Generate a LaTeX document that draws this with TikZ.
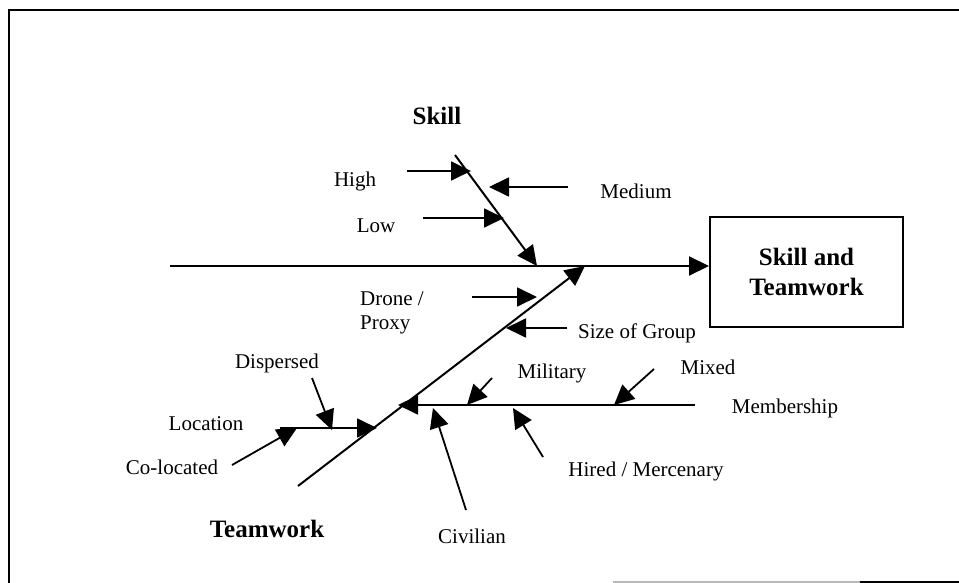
\documentclass[tikz,border=0pt]{standalone}
\usepackage{fontspec}
\setmainfont{Liberation Serif}
\usetikzlibrary{arrows.meta}
\tikzset{
  bone/.style={line width=2pt},
  arr/.style={line width=1.8pt,-{Triangle[length=20pt,width=19pt]}},
  lbl/.style={font=\fontsize{21}{24}\selectfont,inner sep=0pt,anchor=base},
  blbl/.style={font=\fontsize{25}{30}\selectfont\bfseries,inner sep=0pt,anchor=base},
  framel/.style={line width=2pt},
}
\begin{document}
\begin{tikzpicture}[x=1pt,y=-1pt]
\useasboundingbox (0,0) rectangle (959,583);
% frame
\draw[framel] (959,10) -- (9,10) -- (9,583);
\draw[framel,gray!55] (613,582) -- (860,582);
\draw[framel] (860,582) -- (959,582);

% effect box
\node[draw,line width=2pt,minimum width=193pt,minimum height=110pt,inner sep=0pt,
      align=center,font=\fontsize{25}{30}\selectfont\bfseries] (box) at (806.5,272) {Skill and\\Teamwork};

% coordinates
\coordinate (s0) at (170,266);
\coordinate (k0) at (455,155);
\coordinate (k1) at (537,266);
\coordinate (t0) at (298,486);
\coordinate (t1) at (585,266);
\coordinate (hi0) at (407,171);  \coordinate (hi1) at (471,171);
\coordinate (me0) at (568,187);  \coordinate (me1) at (489,187);
\coordinate (lo0) at (423,218);  \coordinate (lo1) at (504,218);
\coordinate (dr0) at (472,297);  \coordinate (dr1) at (537,297);
\coordinate (sz0) at (567,328);  \coordinate (sz1) at (506,328);
\coordinate (lc0) at (280,428);  \coordinate (lc1) at (377,428);
\coordinate (di0) at (312,378);  \coordinate (di1) at (332,430);
\coordinate (co0) at (232,465);  \coordinate (co1) at (297,428);
\coordinate (mb0) at (695,405);  \coordinate (mb1) at (398,405);
\coordinate (mi0) at (492,378);  \coordinate (mi1) at (467,405);
\coordinate (mx0) at (654,369);  \coordinate (mx1) at (614,405);
\coordinate (hr0) at (543,457);  \coordinate (hr1) at (513,408);
\coordinate (cv0) at (466,510);  \coordinate (cv1) at (433,408);

% spine and bones
\draw[arr,line width=2pt] (s0) -- (s0 -| box.west);
\draw[arr,line width=2pt] (k0) -- (k1);
\draw[arr,line width=2pt] (t0) -- (t1);
\draw[arr] (hi0) -- (hi1);
\draw[arr] (me0) -- (me1);
\draw[arr] (lo0) -- (lo1);
\draw[arr] (dr0) -- (dr1);
\draw[arr] (sz0) -- (sz1);
\draw[arr] (lc0) -- (lc1);
\draw[arr] (di0) -- (di1);
\draw[arr] (co0) -- (co1);
\draw[arr] (mb0) -- (mb1);
\draw[arr] (mi0) -- (mi1);
\draw[arr] (mx0) -- (mx1);
\draw[arr] (hr0) -- (hr1);
\draw[arr] (cv0) -- (cv1);

% labels
\node[blbl] (skill) at (437,125) {Skill};
\node[blbl] (team) at (267,537) {Teamwork};
\node[lbl] (high) at (355,186) {High};
\node[lbl] (medium) at (636,199) {Medium};
\node[lbl] (low) at (376,233) {Low};
\node[lbl,anchor=base west,align=left] (drone) at (360,329) {Drone /\\Proxy};
\node[lbl] (size) at (637,338) {Size of Group};
\node[lbl] (disp) at (277,368) {Dispersed};
\node[lbl] (mil) at (552,378) {Military};
\node[lbl] (mixed) at (708,374) {Mixed};
\node[lbl] (memb) at (785,413) {Membership};
\node[lbl] (loc) at (206,430) {Location};
\node[lbl] (colo) at (172,474) {Co-located};
\node[lbl] (hired) at (646,476) {Hired / Mercenary};
\node[lbl] (civ) at (472,543) {Civilian};
\end{tikzpicture}
\end{document}
